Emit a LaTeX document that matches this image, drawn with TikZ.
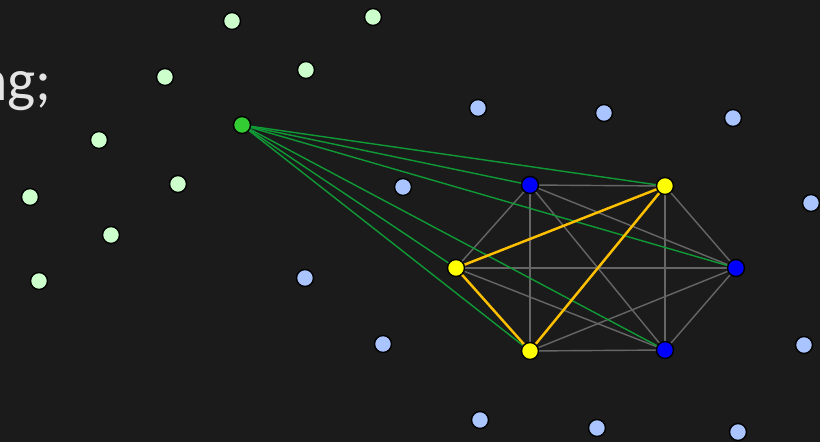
\documentclass[tikz,border=0pt]{standalone}
\usepackage{fontspec}
\setsansfont{Carlito}
\definecolor{bg}{HTML}{1B1B1B}
\definecolor{mint}{HTML}{CCFFCC}
\definecolor{sky}{HTML}{A9C4FF}
\definecolor{leaf}{HTML}{33CC33}
\definecolor{deepblue}{HTML}{0000FF}
\definecolor{lemon}{HTML}{FFFF00}
\definecolor{amber}{HTML}{FFC000}
\definecolor{vine}{HTML}{109A36}
\definecolor{wire}{HTML}{666666}
\definecolor{chalk}{HTML}{E4E4E4}

\begin{document}
\begin{tikzpicture}[x=0.02cm,y=-0.02cm,
    dot/.style={circle,draw=black,line width=0.8pt,minimum size=0.34cm,inner sep=0pt},
    wireedge/.style={wire,line width=0.8pt},
    vineedge/.style={vine,line width=0.8pt},
    amberedge/.style={amber,line width=1.4pt}]
  \fill[bg] (0,0) rectangle (820,442);
  \useasboundingbox (0,0) rectangle (820,442);

  \node[anchor=base east,inner sep=0pt,text=chalk,font=\sffamily\fontsize{34}{40}\selectfont]
    (caption) at (52,101) {ng;};

  % far points
  \foreach \x/\y [count=\i] in {232/21,373/17,165/77,306/70,99/140,178/184,30/197,111/235,39/281}
    \node[dot,fill=mint] (m\i) at (\x,\y) {};
  \foreach \x/\y [count=\i] in {478/108,604/113,733/118,403/187,811/203,305/278,
      383/344,804/345,480/420,597/428,738/432}
    \node[dot,fill=sky] (s\i) at (\x,\y) {};

  % clique
  \coordinate (a) at (530,185);
  \coordinate (b) at (665,186);
  \coordinate (c) at (456,268);
  \coordinate (d) at (736,268);
  \coordinate (e) at (530,351);
  \coordinate (f) at (665,350);
  \coordinate (g) at (242,125);

  \foreach \u/\v in {a/b,a/c,a/d,a/e,a/f,b/c,b/d,b/e,b/f,c/d,c/e,c/f,d/e,d/f,e/f}
    \draw[wireedge] (\u) -- (\v);
  \foreach \v in {a,b,c,d,e,f}
    \draw[vineedge] (g) -- (\v);
  \foreach \u/\v in {c/b,c/e,e/b}
    \draw[amberedge] (\u) -- (\v);

  \node[dot,fill=leaf] (pivot) at (g) {};
  \node[dot,fill=deepblue] (na) at (a) {};
  \node[dot,fill=lemon] (nb) at (b) {};
  \node[dot,fill=lemon] (nc) at (c) {};
  \node[dot,fill=deepblue] (nd) at (d) {};
  \node[dot,fill=lemon] (ne) at (e) {};
  \node[dot,fill=deepblue] (nf) at (f) {};
\end{tikzpicture}
\end{document}
